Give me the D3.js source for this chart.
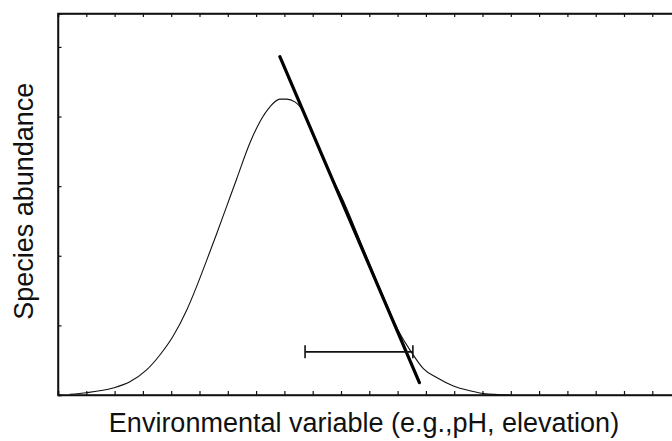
<!DOCTYPE html>
<html>
<head>
<meta charset="utf-8">
<script src="https://cdn.jsdelivr.net/npm/d3@7"></script>
<style>
  html, body { margin: 0; padding: 0; background: #fff; }
  svg { display: block; }
  text { font-family: "Liberation Sans", Arial, sans-serif; fill: #111; }
</style>
</head>
<body>
<svg id="chart" width="672" height="441"></svg>
<script>
// ---- data (axis units) ----
const curveX = [0.42, 1.01, 1.94, 2.54, 3.13, 3.60, 4.06, 4.55, 4.90, 5.25, 5.61, 5.96, 6.31, 6.78, 7.14, 7.49, 7.84, 8.08, 8.37, 8.67, 9.02, 9.33, 10.07, 10.81, 11.55, 12.02, 12.48, 12.91, 13.38, 13.97, 14.56, 15.03, 15.97];
const curveY = [0.01, 0.033, 0.10, 0.19, 0.36, 0.575, 0.84, 1.22, 1.56, 1.93, 2.32, 2.71, 3.10, 3.62, 3.93, 4.14, 4.25, 4.25, 4.21, 4.07, 3.74, 3.42, 2.80, 2.08, 1.36, 0.93, 0.62, 0.38, 0.25, 0.13, 0.06, 0.02, 0.0];
const tangentX = [7.84, 12.77];
const tangentY = [4.86, 0.177];
const errorBarX = [8.73, 12.54];
const errorBarY = [0.62];
const xTicks = d3.range(0, 23);
const yTicks = [0, 1, 2, 3, 4, 5];
const xLabel = "Environmental variable (e.g.,pH, elevation)";
const yLabel = "Species abundance";

// ---- layout ----
const svg = d3.select("#chart");
const mLeft = 58, mTop = 13.5, mBottom = 395, mRight = 680.6;
const x = d3.scaleLinear().domain([0, 22]).range([mLeft, mRight]);
const y = d3.scaleLinear().domain([0, 5.48]).range([mBottom, mTop]);

const ink = "#111";

// frame
svg.append("rect")
  .attr("x", mLeft).attr("y", mTop)
  .attr("width", mRight - mLeft).attr("height", mBottom - mTop)
  .attr("fill", "none").attr("stroke", ink).attr("stroke-width", 1.5);

// axes with inward ticks, no labels
const gB = svg.append("g").attr("transform", `translate(0,${mBottom})`)
  .call(d3.axisBottom(x).tickValues(xTicks).tickSize(-4).tickFormat(""));
const gT = svg.append("g").attr("transform", `translate(0,${mTop})`)
  .call(d3.axisTop(x).tickValues(xTicks).tickSize(-3.5).tickFormat(""));
const gL = svg.append("g").attr("transform", `translate(${mLeft},0)`)
  .call(d3.axisLeft(y).tickValues(yTicks).tickSize(-3.5).tickFormat(""));
[gB, gT, gL].forEach(g => {
  g.select(".domain").attr("stroke", ink).attr("stroke-width", 1.5);
  g.selectAll(".tick line").attr("stroke", ink).attr("stroke-width", 1.2);
});

// abundance curve
const pts = curveX.map((v, i) => [v, curveY[i]]);
svg.append("path")
  .datum(pts)
  .attr("fill", "none")
  .attr("stroke", ink)
  .attr("stroke-width", 1.1)
  .attr("d", d3.line().x(d => x(d[0])).y(d => y(d[1])).curve(d3.curveMonotoneX));

// thick tangent line
svg.append("line")
  .attr("x1", x(tangentX[0])).attr("y1", y(tangentY[0]))
  .attr("x2", x(tangentX[1])).attr("y2", y(tangentY[1]))
  .attr("stroke", "#000").attr("stroke-width", 3.2).attr("stroke-linecap", "round");

// error bar
const eb = svg.append("g").attr("stroke", ink).attr("stroke-width", 1.6);
eb.append("line")
  .attr("x1", x(errorBarX[0])).attr("x2", x(errorBarX[1]))
  .attr("y1", y(errorBarY[0])).attr("y2", y(errorBarY[0]));
errorBarX.forEach(v => {
  eb.append("line")
    .attr("x1", x(v)).attr("x2", x(v))
    .attr("y1", y(errorBarY[0]) - 6.5).attr("y2", y(errorBarY[0]) + 6.5);
});

// labels
svg.append("text")
  .attr("x", (mLeft + 672) / 2 - 1).attr("y", 432)
  .attr("text-anchor", "middle")
  .style("font-size", "27px")
  .text(xLabel);

svg.append("text")
  .attr("transform", `translate(33,${(mTop + mBottom) / 2 - 3}) rotate(-90)`)
  .attr("text-anchor", "middle")
  .style("font-size", "27px")
  .text(yLabel);
</script>
</body>
</html>
